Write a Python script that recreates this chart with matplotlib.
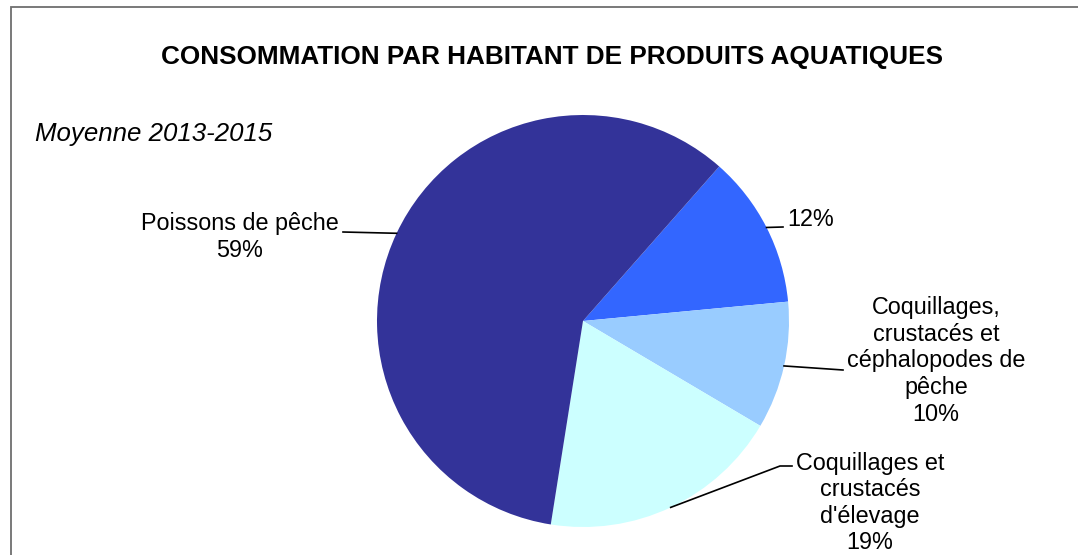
import numpy as np
import matplotlib.pyplot as plt
from matplotlib.patches import Rectangle

# === Data ===
labels = ["", "Coquillages,\ncrustacés et\ncéphalopodes de\npêche", "Coquillages et\ncrustacés\nd'élevage", "Poissons de pêche"]
shares = [12, 10, 19, 59]
colors = ["#3366FF", "#99CCFF", "#CCFFFF", "#333399"]

# label centre (pixel), leader elbow (pixel), and optional horizontal tail end
label_px = [(787, 220), (936, 361), (870, 503), (240, 237)]
elbow_px = [(783, 227), (843, 370), (780, 466), (343, 232)]
tail_px = [None, None, 792, None]

W, H = 1078, 555
CX, CY, R = 583, 321, 206

fig = plt.figure(figsize=(W / 100, H / 100), dpi=100)
plt.rcParams['font.family'] = ['Liberation Sans', 'DejaVu Sans']

# frame (cropped on right and bottom)
fig.patches.append(Rectangle((11 / W, -0.1), 1.2, 1 - 7 / H + 0.1, transform=fig.transFigure,
                             fill=False, edgecolor="#6e6e6e", linewidth=1.3))

ax = fig.add_axes([(CX - R) / W, (H - CY - R) / H, 2 * R / W, 2 * R / H])
wedges, _ = ax.pie(shares, colors=colors, startangle=48.6, counterclock=False,
                   radius=1, wedgeprops=dict(linewidth=0))
ax.set_xlim(-1, 1)
ax.set_ylim(-1, 1)
ax.set_aspect("auto")
ax.axis("off")


def px2data(p):
    return (p[0] - CX) / R, (CY - p[1]) / R


for w, lab, share, lp, ep, tp in zip(wedges, labels, shares, label_px, elbow_px, tail_px):
    mid = np.deg2rad((w.theta1 + w.theta2) / 2)
    xs = [np.cos(mid)]
    ys = [np.sin(mid)]
    ex, ey = px2data(ep)
    xs.append(ex)
    ys.append(ey)
    if tp is not None:
        xs.append((tp - CX) / R)
        ys.append(ey)
    ax.plot(xs, ys, color="black", linewidth=1.2, clip_on=False)
    lx, ly = px2data(lp)
    txt = f"{lab}\n{share}%" if lab else f"{share}%"
    ha = "left" if not lab else "center"
    ax.text(lx, ly, txt, ha=ha, va="center", fontsize=16.8, linespacing=1.2,
            clip_on=False)

fig.text(552 / W, 1 - 57 / H, "CONSOMMATION PAR HABITANT DE PRODUITS AQUATIQUES",
         ha="center", va="center", fontsize=18.8, fontweight="bold")
fig.text(35 / W, 1 - 134 / H, "Moyenne 2013-2015", ha="left", va="center",
         fontsize=18.6, style="italic")

fig.savefig("out.png", dpi=100)
